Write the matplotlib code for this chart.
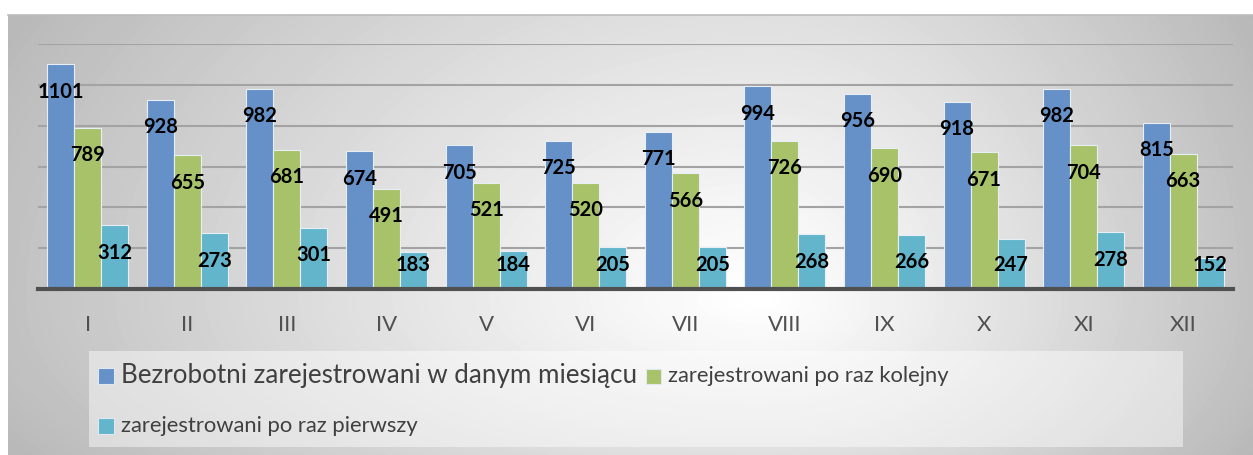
import numpy as np
import matplotlib.pyplot as plt
from matplotlib.patches import Rectangle

# data
months = ['I', 'II', 'III', 'IV', 'V', 'VI', 'VII', 'VIII', 'IX', 'X', 'XI', 'XII']
bezrobotni = [1101, 928, 982, 674, 705, 725, 771, 994, 956, 918, 982, 815]
kolejny = [789, 655, 681, 491, 521, 520, 566, 726, 690, 671, 704, 663]
pierwszy = [312, 273, 301, 183, 184, 205, 205, 268, 266, 247, 278, 152]
series_names = ['Bezrobotni zarejestrowani w danym miesiącu',
                'zarejestrowani po raz kolejny',
                'zarejestrowani po raz pierwszy']
colors = ['#6591c8', '#a8c26a', '#62b5cb']

plt.rcParams['font.family'] = ['Lato', 'DejaVu Sans']

W, H = 1253, 455
fig = plt.figure(figsize=(W / 100, H / 100), dpi=100)

# gray radial background of the chart area
bg = fig.add_axes([8 / W, 0, 1 - 8 / W, 1 - 15 / H], zorder=-5)
xx, yy = np.meshgrid(np.arange(W - 8), np.arange(H - 15))
cx, cy = 752, 285
tx = np.where(xx < cx, (cx - xx) / 750, (xx - cx) / 490)
ty = np.where(yy < cy, (cy - yy) / 285, (yy - cy) / 155)
t = np.clip(np.sqrt(tx ** 2 + (0.55 * ty) ** 2), 0, 1.15)
gray = 1 - 0.24 * t ** 1.1
bg.imshow(gray, cmap='gray', vmin=0, vmax=1, aspect='auto', interpolation='bilinear')
bg.set_xticks([])
bg.set_yticks([])
for s in ['left', 'right', 'bottom']:
    bg.spines[s].set_visible(False)
bg.spines['top'].set_color('#bcbcbc')
bg.spines['top'].set_linewidth(1.2)

# main plot area
ax = fig.add_axes([38 / W, (H - 289) / H, 1195 / W, 245 / H])
ax.set_facecolor('none')
x = np.arange(len(months))
bw = 0.271
ymax = 1200
upp = ymax / 245  # data units per pixel
for i, (vals, col) in enumerate(zip([bezrobotni, kolejny, pierwszy], colors)):
    bars = ax.bar(x + (i - 1) * bw, vals, bw, color=col, edgecolor='#e8eef6',
                  linewidth=0.8, zorder=3)
    for b, v in zip(bars, vals):
        # label sits inside the bar, but never lower than just above the axis
        ly = max(v - 27.5 * upp, 24 * upp)
        ax.text(b.get_x() + b.get_width() / 2, ly, str(v),
                ha='center', va='center', fontsize=14.5, fontweight='bold',
                color='black', zorder=5)

ax.set_xlim(-0.5, len(months) - 0.5)
ax.set_ylim(0, ymax)
ax.set_yticks(range(200, ymax + 1, 200))
ax.yaxis.grid(True, color='#a3a3a3', linewidth=1.5, zorder=0)
ax.tick_params(axis='y', left=False, labelleft=False)
ax.tick_params(axis='x', bottom=False, pad=15, labelsize=16, labelcolor='#505050')
ax.set_xticks(x)
ax.set_xticklabels(months)
for s in ['left', 'right', 'top']:
    ax.spines[s].set_visible(False)
ax.spines['bottom'].set_color('#505050')
ax.spines['bottom'].set_linewidth(3)
ax.spines['bottom'].set_zorder(4)

# legend drawn by hand: box, squares, texts
def px(xp, yp):
    return xp / W, 1 - yp / H

fig.patches.append(Rectangle(px(89, 447), (1183 - 89) / W, 96 / H,
                             transform=fig.transFigure, facecolor='white',
                             alpha=0.45, edgecolor='none', zorder=1))
leg_items = [(98, 376, 16, 18.7), (646, 376, 15, 15.8), (98, 426, 16, 15.8)]
for (lx, ly, sz, fs), name, col in zip(leg_items, series_names, colors):
    fig.patches.append(Rectangle(px(lx, ly + sz / 2), sz / W, sz / H,
                                 transform=fig.transFigure, facecolor=col,
                                 edgecolor='#dfe8f0', linewidth=0.8, zorder=2))
    fig.text(*px(lx + sz + 7, ly), name, fontsize=fs, color='#404040',
             ha='left', va='center', zorder=3)

plt.savefig('out.png', dpi=100)
